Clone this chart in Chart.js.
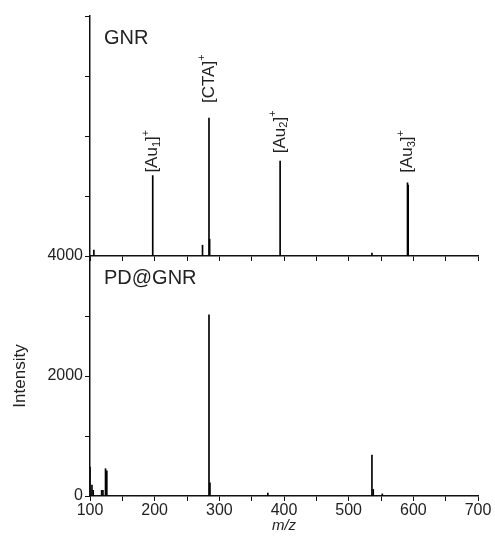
<!DOCTYPE html>
<html>
<head>
<meta charset="utf-8">
<script src="https://cdn.jsdelivr.net/npm/chart.js@4.4.0/dist/chart.umd.min.js"></script>
<style>
  html, body { margin: 0; background: #fff; }
  #wrap { position: relative; width: 495px; height: 536px; }
  #gnrChart { position: absolute; left: 0; top: 0; z-index: 2; }
  #pdChart { position: absolute; left: 0; top: 240px; z-index: 1; }
</style>
</head>
<body>
<div id="wrap">
  <canvas id="gnrChart" width="495" height="270"></canvas>
  <canvas id="pdChart" width="495" height="296"></canvas>
</div>
<script>
// GNR spectrum
const gnrMz = [106, 197, 274, 284, 285, 394, 536, 591, 592];
const gnrIntensity = [100, 1340, 180, 2300, 280, 1580, 50, 1220, 1180];

// PD@GNR spectrum
const pdMz = [100, 103, 105, 118, 120, 124, 126, 284, 285.5, 375, 536, 538, 552];
const pdIntensity = [480, 180, 95, 95, 95, 455, 420, 3020, 220, 50, 680, 110, 35];

// annotated ions in the GNR spectrum
const peakMz = [197, 284, 394, 591];
const peakIon = ['Au', 'CTA', 'Au', 'Au'];
const peakSub = ['1', '', '2', '3'];

const mzTicks = [100, 200, 300, 400, 500, 600, 700];
const intensityTicks = [0, 2000, 4000];

const FONT = '"Liberation Sans", Arial, sans-serif';
const INK = '#222';

const toPoints = (xs, ys) => xs.map((x, i) => ({ x: x, y: ys[i] }));

// sample name in the top-left corner of each panel
const panelLabel = {
  id: 'panelLabel',
  afterDraw(chart, args, opts) {
    const { ctx, chartArea } = chart;
    ctx.save();
    ctx.font = '20px ' + FONT;
    ctx.fillStyle = INK;
    ctx.textBaseline = 'alphabetic';
    ctx.fillText(opts.text, chartArea.left + 14, chartArea.top + 28);
    ctx.restore();
  }
};

// vertical ion labels above the peaks
const peakTags = {
  id: 'peakTags',
  afterDatasetsDraw(chart, args, opts) {
    if (!opts.show) return;
    const { ctx, scales: { x, y } } = chart;
    const pts = chart.data.datasets[0].data;
    peakMz.forEach((mz, i) => {
      const pt = pts.find(p => p.x === mz);
      const px = x.getPixelForValue(mz);
      const py = y.getPixelForValue(pt.y) - opts.gaps[i];
      ctx.save();
      ctx.translate(px, py);
      ctx.rotate(-Math.PI / 2);
      ctx.fillStyle = INK;
      ctx.textBaseline = 'middle';
      const pieces = [['[' + peakIon[i], 0], [peakSub[i], 4], [']', 0], ['+', -7]];
      let cx = 0;
      pieces.forEach(([t, dy]) => {
        if (!t) return;
        ctx.font = (dy ? '11px ' : '17px ') + FONT;
        ctx.fillText(t, cx, dy);
        cx += ctx.measureText(t).width;
      });
      ctx.restore();
    });
  }
};

function xScale(showLabels, height) {
  return {
    type: 'linear',
    min: 100,
    max: 700,
    offset: false,
    afterFit: s => { s.height = height; },
    border: { display: true, color: '#111', width: 1.5 },
    grid: { drawOnChartArea: false, drawTicks: true, tickLength: 5, color: '#111', offset: false },
    ticks: {
      display: showLabels,
      stepSize: 50,
      autoSkip: false,
      maxRotation: 0,
      padding: 0,
      color: INK,
      font: { family: FONT, size: 16 },
      callback: v => (mzTicks.includes(v) ? String(v) : '')
    },
    title: {
      display: showLabels,
      text: 'm/z',
      color: INK,
      font: { family: FONT, size: 15, style: 'italic' },
      padding: { top: 0, bottom: 1 }
    }
  };
}

function yScale(showLabels) {
  return {
    min: 0,
    max: 4000,
    afterFit: s => { s.width = 90; },
    border: { display: true, color: '#111', width: 1.5 },
    grid: { drawOnChartArea: false, drawTicks: true, tickLength: 5, color: '#111' },
    ticks: {
      display: showLabels,
      stepSize: 1000,
      padding: 2,
      color: INK,
      font: { family: FONT, size: 16 },
      callback: v => (intensityTicks.includes(v) ? String(v) : '')
    },
    title: {
      display: showLabels,
      text: 'Intensity',
      color: INK,
      font: { family: FONT, size: 17 },
      padding: { top: 10, bottom: 4 }
    }
  };
}

function spectrum(canvasId, points, name, tags, padTop, xHeight, showLabels) {
  return new Chart(document.getElementById(canvasId), {
    type: 'bar',
    data: {
      datasets: [{
        data: points,
        backgroundColor: '#000',
        borderWidth: 0,
        barThickness: 1
      }]
    },
    options: {
      responsive: false,
      animation: false,
      layout: { padding: { left: 0, right: 17, top: padTop, bottom: 0 } },
      scales: {
        x: xScale(showLabels, xHeight),
        y: yScale(showLabels)
      },
      plugins: {
        legend: { display: false },
        tooltip: { enabled: false },
        panelLabel: { text: name },
        peakTags: { show: tags, gaps: [3, 15, 8, 10] }
      }
    },
    plugins: [panelLabel, peakTags]
  });
}

spectrum('gnrChart', toPoints(gnrMz, gnrIntensity), 'GNR', true, 16, 14, false);
spectrum('pdChart', toPoints(pdMz, pdIntensity), 'PD@GNR', false, 16, 40, true);
</script>
</body>
</html>
